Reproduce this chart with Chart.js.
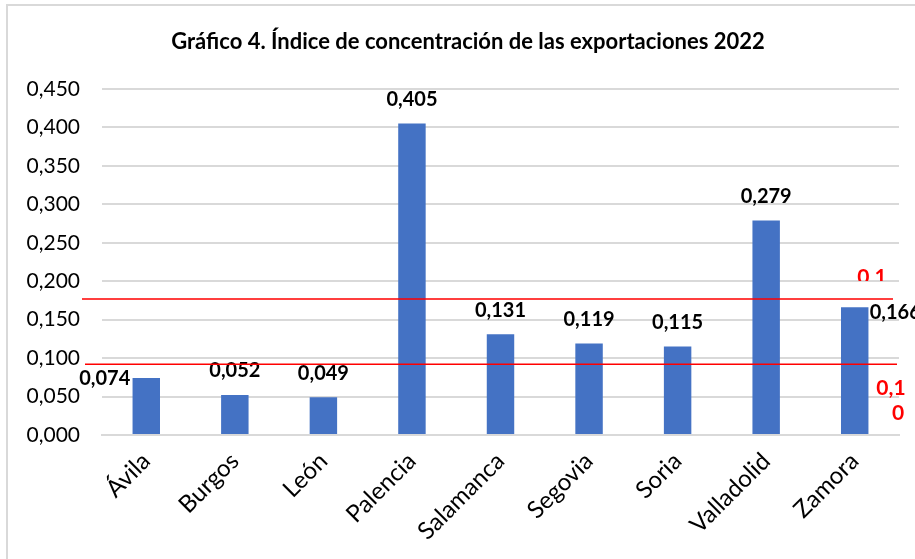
<!DOCTYPE html>
<html>
<head>
<meta charset="utf-8">
<script src="https://cdn.jsdelivr.net/npm/chart.js@4/dist/chart.umd.min.js"></script>
<style>
  html, body { margin: 0; padding: 0; background: #fff; }
  #wrap { position: relative; width: 915px; height: 559px; overflow: hidden; }
  #frame { position: absolute; left: 6px; top: 4px; right: -10px; bottom: -10px;
           border-left: 2px solid #d9d9d9; border-top: 2px solid #d9d9d9; }
  canvas { position: absolute; left: 0; top: 0; }
</style>
</head>
<body>
<div id="wrap">
  <div id="frame"></div>
  <canvas id="chart" width="915" height="559"></canvas>
</div>
<script>
// Data
const provincias = ["Ávila", "Burgos", "León", "Palencia", "Salamanca", "Segovia", "Soria", "Valladolid", "Zamora"];
const indice = [0.074, 0.052, 0.049, 0.405, 0.131, 0.119, 0.115, 0.279, 0.166];
const refLines = [0.177, 0.092];
const titulo = "Gráfico 4. Índice de concentración de las exportaciones 2022";

const FONT = "Lato, 'Open Sans', sans-serif";
const fmt = v => v.toFixed(3).replace(".", ",");

// Title: original chart is cut off on the right, so it is not centred on the canvas
const titlePlugin = {
  id: "titlePlugin",
  afterDraw(chart) {
    const ctx = chart.ctx;
    ctx.save();
    ctx.font = "bold 22px " + FONT;
    ctx.fillStyle = "#000";
    ctx.textAlign = "center";
    ctx.textBaseline = "middle";
    ctx.fillText(titulo, 468, 42);
    ctx.restore();
  }
};

// Data labels on top of the bars
const barLabels = {
  id: "barLabels",
  afterDatasetsDraw(chart) {
    const ctx = chart.ctx;
    const meta = chart.getDatasetMeta(0);
    ctx.save();
    ctx.font = "bold 20px " + FONT;
    ctx.fillStyle = "#000";
    ctx.textBaseline = "middle";
    meta.data.forEach((bar, i) => {
      const txt = fmt(indice[i]);
      if (i === 0) {
        ctx.textAlign = "right";
        ctx.fillText(txt, bar.x - 16, bar.y);
      } else if (i === indice.length - 1) {
        ctx.textAlign = "left";
        ctx.fillText(txt, bar.x + 15, bar.y + 5);
      } else {
        ctx.textAlign = "center";
        ctx.fillText(txt, bar.x, bar.y - 24);
      }
    });
    ctx.restore();
  }
};

// Red reference lines + their labels
const redLines = {
  id: "redLines",
  afterDatasetsDraw(chart) {
    const ctx = chart.ctx;
    const y = chart.scales.y;
    const a = chart.chartArea;
    ctx.save();
    ctx.strokeStyle = "#ff0000";
    ctx.lineWidth = 1.5;
    const y1 = y.getPixelForValue(refLines[0]);
    const y2 = y.getPixelForValue(refLines[1]);
    ctx.beginPath();
    ctx.moveTo(a.left - 20, y1);
    ctx.lineTo(a.right - 6, y1);
    ctx.moveTo(a.left - 17, y2);
    ctx.lineTo(a.right - 2, y2);
    ctx.stroke();

    ctx.fillStyle = "#ff0000";
    ctx.font = "bold 21px " + FONT;
    ctx.textAlign = "center";
    ctx.textBaseline = "middle";
    // top label is cut off at the bottom
    ctx.save();
    ctx.beginPath();
    ctx.rect(840, 255, 80, y1 - 18 - 255);
    ctx.clip();
    ctx.fillText("0,1", 872, y1 - 22);
    ctx.restore();
    ctx.fillText("0,1", 891, y2 + 24);
    ctx.fillText("0", 898, y2 + 49);
    ctx.restore();
  }
};

new Chart(document.getElementById("chart"), {
  type: "bar",
  data: {
    labels: provincias,
    datasets: [{
      data: indice,
      backgroundColor: "#4472c4",
      barPercentage: 1,
      categoryPercentage: 0.31
    }]
  },
  options: {
    responsive: false,
    animation: false,
    devicePixelRatio: 1,
    layout: { padding: { left: 0, right: 16, top: 89, bottom: 0 } },
    plugins: {
      legend: { display: false },
      tooltip: { enabled: false },
      title: { display: false }
    },
    scales: {
      y: {
        min: 0,
        max: 0.45,
        ticks: {
          stepSize: 0.05,
          color: "#000",
          font: { family: FONT, size: 21 },
          padding: 22,
          callback: v => fmt(v)
        },
        grid: { color: "#d9d9d9", lineWidth: 2, drawTicks: false },
        border: { display: false },
        afterFit: s => { s.width = 102; }
      },
      x: {
        ticks: {
          color: "#000",
          font: { family: FONT, size: 24 },
          minRotation: 45,
          maxRotation: 45,
          padding: 12
        },
        grid: { display: false, drawTicks: false },
        border: { color: "#d9d9d9", width: 2 },
        afterFit: s => { s.height = 124; }
      }
    }
  },
  plugins: [titlePlugin, barLabels, redLines]
});
</script>
</body>
</html>
